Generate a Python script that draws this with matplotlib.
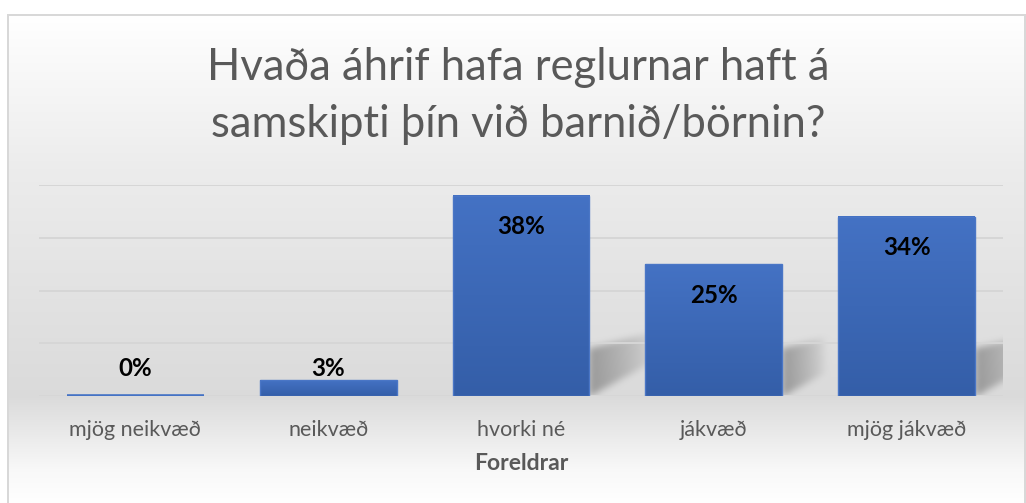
import numpy as np
import matplotlib
matplotlib.use('Agg')
import matplotlib.pyplot as plt

# data
categories = ['mjög neikvæð', 'neikvæð', 'hvorki né', 'jákvæð', 'mjög jákvæð']
shares = [0.00, 0.03, 0.38, 0.25, 0.34]
value_labels = ['0%', '3%', '38%', '25%', '34%']
title_lines = ['Hvaða áhrif hafa reglurnar haft á',
               'samskipti þín við barnið/börnin?']
x_title = 'Foreldrar'

W, H = 1026, 503
GRAY_TEXT = '#595959'
FONT = ['Lato', 'DejaVu Sans']

plt.rcParams['font.family'] = FONT

fig = plt.figure(figsize=(W / 100, H / 100), dpi=100)

# background axes covering the whole figure (gradient + border + shadows)
ax_bg = fig.add_axes([0, 0, 1, 1], zorder=0)
ax_bg.set_axis_off()

# main plot area
left, right, top, bottom = 39, 1003, 185, 396
ax = fig.add_axes([left / W, (H - bottom) / H, (right - left) / W,
                   (bottom - top) / H], zorder=1)
ax.patch.set_alpha(0)
ax.set_xlim(-0.5, len(categories) - 0.5)
ax.set_ylim(0, 0.4)

x = np.arange(len(categories))
bar_width = 0.71

# --- background gradient -------------------------------------------------
rows = np.arange(H)
shade = np.interp(rows, [0, 14, 170, 396, 470, 503],
                  [1.0, 1.0, 0.925, 0.857, 0.975, 1.0])
img = np.repeat(shade[:, None], W, axis=1)
img[:14, :] = 1.0
img[:, :7] = 1.0
img[14:16, 7:1025] = 0.85
img[14:, 7:9] = 0.85
img[14:, 1024:1026] = 0.85

# --- soft shadows on the right of each bar ---------------------------------
shadow = np.zeros((H, W))
cols = np.arange(W)
for xi, v in zip(x, shares):
    if v < 0.05:
        continue
    xr, yb = ax.transData.transform((xi + bar_width / 2, 0))
    _, yt = ax.transData.transform((xi, v))
    xr = int(round(xr))
    base_row = H - yb
    bar_h = yt - yb
    length = bar_h / 3.0
    dx = cols - xr
    dy = base_row - rows[:, None]
    dxg = np.broadcast_to(dx[None, :], (H, W))
    low = 0.55 * dxg
    high = 48 + 0.25 * dxg
    inside = (dxg >= 0) & (dxg <= length) & (dy >= low) & (dy <= high) & (dy >= 0)
    fade = np.clip(1 - dxg / max(length, 1), 0, 1) ** 0.7
    shadow = np.maximum(shadow, np.where(inside, fade, 0))

# blur the shadow a bit
k = np.exp(-0.5 * (np.arange(-8, 9) / 3.5) ** 2)
k /= k.sum()
shadow = np.apply_along_axis(lambda r: np.convolve(r, k, mode='same'), 1, shadow)
shadow = np.apply_along_axis(lambda c: np.convolve(c, k, mode='same'), 0, shadow)
# keep shadows inside the plot area and above the baseline
shadow[:, right:] = 0
shadow[bottom:, :] = 0
img = img - 0.26 * shadow

ax_bg.imshow(np.dstack([img] * 3), extent=(0, W, 0, H), origin='upper',
             aspect='auto', interpolation='bilinear')
ax_bg.set_xlim(0, W)
ax_bg.set_ylim(0, H)

# --- grid --------------------------------------------------------------------
for g in [0.1, 0.2, 0.3, 0.4]:
    ax.axhline(g, color='#d6d6d6', lw=1.4, zorder=1)
ax.axhline(0, color='#d6d6d6', lw=1.4, zorder=1)

# --- bars with vertical gradient --------------------------------------------
grad = np.linspace(0, 1, 256)[:, None]
top_c = np.array([0x44, 0x72, 0xc4]) / 255
bot_c = np.array([0x34, 0x5e, 0xa8]) / 255
grad_img = top_c * (1 - grad[..., None]) + bot_c * grad[..., None]
for xi, v in zip(x, shares):
    x0, x1 = xi - bar_width / 2, xi + bar_width / 2
    if v > 0:
        ax.imshow(grad_img, extent=(x0, x1, 0, v), aspect='auto',
                  origin='upper', zorder=2)
        ax.bar(xi, v, width=bar_width, facecolor='none',
               edgecolor='#4a76c6', linewidth=1.0, zorder=3)
    else:
        # an empty bar shows as a thin blue line on the baseline
        ax.plot([x0, x1], [v, v], color='#4472c4', lw=2.6,
                solid_capstyle='butt', zorder=3)
ax.set_xlim(-0.5, len(categories) - 0.5)
ax.set_ylim(0, 0.4)

# --- value labels ------------------------------------------------------------
px = 0.4 / (bottom - top)
for xi, v, lab in zip(x, shares, value_labels):
    y = max(v - 31 * px, 28 * px)
    ax.text(xi, y, lab, ha='center', va='center', fontsize=17.4,
            fontweight='bold', color='black', zorder=4)

ax.set_xticks(x)
ax.set_xticklabels(categories, fontsize=15.5, color=GRAY_TEXT)
ax.tick_params(axis='x', length=0, pad=17)
ax.set_yticks([])
for s in ax.spines.values():
    s.set_visible(False)
ax.set_xlabel(x_title, fontsize=16.5, fontweight='bold', color=GRAY_TEXT,
              labelpad=10)

# title, one text per line, placed on its baseline
for line, base in zip(title_lines, [80, 137]):
    fig.text(518 / W, 1 - base / H, line, ha='center', va='baseline',
             fontsize=31.4, color=GRAY_TEXT)

fig.savefig('out.png', dpi=100)
